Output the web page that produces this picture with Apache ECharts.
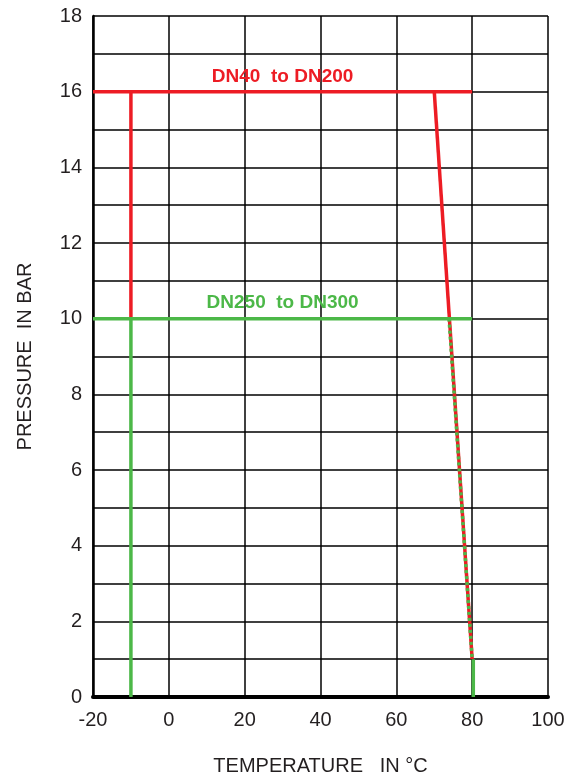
<!DOCTYPE html>
<html><head><meta charset="utf-8">
<script src="https://cdn.jsdelivr.net/npm/echarts@6/dist/echarts.min.js"></script>
<style>html,body{margin:0;padding:0;background:#fff}#c{width:578px;height:775px}</style>
</head><body><div id="c"></div>
<script>
// Axis ranges / ticks
const xRange = [-20, 100];
const yRange = [0, 18];
const xStep = 20;
const yStep = 2;

// DN40 to DN200 (red) boundary
const redTop = [[-20, 16], [80, 16]];
const redLeft = [[-10, 16], [-10, 10]];
const redSlope = [[70, 16], [80, 1]];

// DN250 to DN300 (green) boundary
const greenTop = [[-20, 10], [80, 10]];
const greenLeft = [[-10, 10], [-10, 0]];
const greenSlope = [[73.9, 10], [80, 1]];
const greenEnd = [[80.3, 1], [80.3, 0]];

// Series labels
const labelTexts = ['DN40  to DN200', 'DN250  to DN300'];
const labelPoints = [[30, 16.4], [30, 10.42]];

const RED = '#ed1c24';
const GREEN = '#4cb848';
const TXT = '#231f20';
const labelColors = [RED, GREEN];

const chart = echarts.init(document.getElementById('c'), null, {renderer: 'canvas'});

function seg(data, color, extra) {
  return Object.assign({
    type: 'line', data: data, showSymbol: false, symbol: 'none', silent: true,
    lineStyle: {color: color, width: 3.5, cap: 'butt'}
  }, extra || {});
}

chart.setOption({
  animation: false,
  backgroundColor: '#fff',
  grid: {left: 93, right: 30, top: 16, bottom: 78, containLabel: false, outerBoundsMode: 'none'},
  xAxis: {
    type: 'value', min: xRange[0], max: xRange[1], interval: xStep,
    name: 'TEMPERATURE   IN °C', nameLocation: 'middle', nameGap: 59,
    nameTextStyle: {fontFamily: 'Liberation Sans', fontSize: 20, color: TXT},
    axisLine: {show: true, onZero: false, lineStyle: {color: '#000', width: 4}},
    axisTick: {show: false},
    axisLabel: {fontFamily: 'Liberation Sans', fontSize: 20, color: TXT, margin: 13},
    splitLine: {show: true, lineStyle: {color: '#000', width: 1.5}}
  },
  yAxis: {
    type: 'value', min: yRange[0], max: yRange[1], interval: yStep,
    name: 'PRESSURE  IN BAR', nameLocation: 'middle', nameGap: 58, nameRotate: 90,
    nameTextStyle: {fontFamily: 'Liberation Sans', fontSize: 20, color: TXT},
    axisLine: {show: true, onZero: false, lineStyle: {color: '#000', width: 2.5}},
    axisTick: {show: false},
    axisLabel: {fontFamily: 'Liberation Sans', fontSize: 20, color: TXT, margin: 11},
    splitLine: {show: true, lineStyle: {color: '#000', width: 1.5}},
    minorTick: {show: false, splitNumber: 2},
    minorSplitLine: {show: true, lineStyle: {color: '#000', width: 1.5}}
  },
  series: [
    seg(redTop, RED),
    seg(redLeft, RED),
    seg(redSlope, RED),
    seg(greenTop, GREEN),
    seg(greenLeft, GREEN),
    seg(greenEnd, GREEN),
    seg(greenSlope, GREEN, {lineStyle: {color: GREEN, width: 3.5, type: [3, 3], cap: 'butt'}, z: 5}),
    {
      type: 'scatter', silent: true, symbolSize: 0,
      itemStyle: {color: 'rgba(0,0,0,0)'},
      data: labelPoints.map((p, i) => ({
        value: p, name: labelTexts[i],
        label: {color: labelColors[i]}
      })),
      label: {
        show: true, position: 'inside',
        fontFamily: 'Liberation Sans', fontWeight: 'bold', fontSize: 19,
        textBorderWidth: 0, textBorderColor: 'transparent', opacity: 1,
        formatter: (p) => p.name
      },
      z: 6
    }
  ]
});
</script></body></html>
